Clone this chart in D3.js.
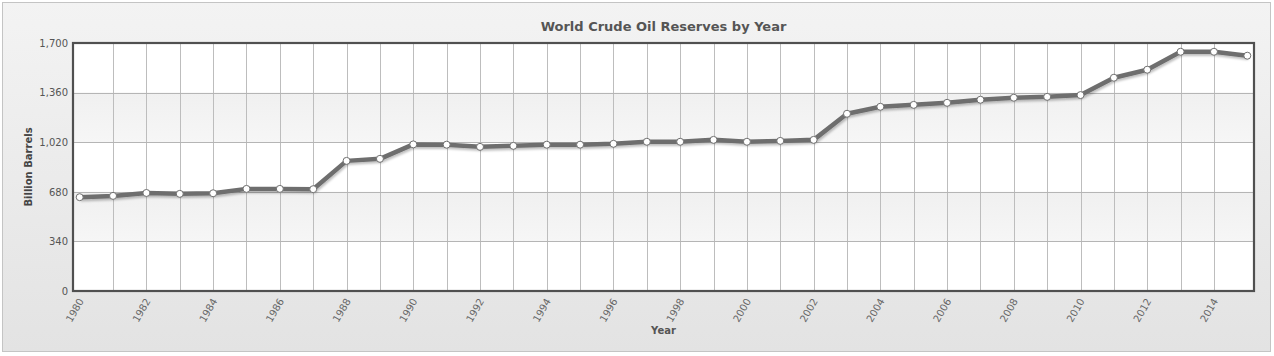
<!DOCTYPE html>
<html>
<head>
<meta charset="utf-8">
<script src="https://cdn.jsdelivr.net/npm/d3@7"></script>
<style>
html,body{margin:0;padding:0;background:#fff;}
svg{display:block;font-family:"DejaVu Sans",Verdana,sans-serif;}
</style>
</head>
<body>
<svg id="chart" width="1274" height="356"></svg>
<script>
const years = [1980,1981,1982,1983,1984,1985,1986,1987,1988,1989,1990,1991,1992,1993,1994,1995,1996,1997,1998,1999,2000,2001,2002,2003,2004,2005,2006,2007,2008,2009,2010,2011,2012,2013,2014,2015];
const reserves = [643,652,672,666,670,700,700,698,892,906,1005,1003,988,995,1003,1003,1009,1023,1023,1036,1023,1029,1036,1215,1263,1276,1290,1311,1325,1331,1343,1462,1517,1640,1640,1613];
const yTicks = [0,340,680,1020,1360,1700];
const xLabelYears = [1980,1982,1984,1986,1988,1990,1992,1994,1996,1998,2000,2002,2004,2006,2008,2010,2012,2014];
const title = "World Crude Oil Reserves by Year";
const yTitle = "Billion Barrels";
const xTitle = "Year";

const svg = d3.select("#chart");
const W = 1274, H = 356;
const m = {left:73, right:1254, top:43, bottom:291};

const defs = svg.append("defs");
const bg = defs.append("linearGradient").attr("id","bg").attr("x1",0).attr("y1",0).attr("x2",0).attr("y2",1);
bg.append("stop").attr("offset","0%").attr("stop-color","#f3f3f3");
bg.append("stop").attr("offset","100%").attr("stop-color","#e3e3e3");
const band = defs.append("linearGradient").attr("id","band").attr("x1",0).attr("y1",0).attr("x2",0).attr("y2",1);
band.append("stop").attr("offset","0%").attr("stop-color","#f0f0f0");
band.append("stop").attr("offset","100%").attr("stop-color","#f6f6f6");
const sh = defs.append("filter").attr("id","shadow").attr("x","-5%").attr("y","-20%").attr("width","110%").attr("height","140%");
sh.append("feDropShadow").attr("dx",1).attr("dy",2).attr("stdDeviation",1.2).attr("flood-color","#000").attr("flood-opacity",0.25);

svg.append("rect").attr("x",2.5).attr("y",2.5).attr("width",W-6).attr("height",H-7)
  .attr("fill","url(#bg)").attr("stroke","#c4c4c4").attr("stroke-width",1);

const x = d3.scalePoint().domain(years).range([m.left, m.right]).padding(0.2);
const y = d3.scaleLinear().domain([0,1700]).range([m.bottom, m.top]);

// plot background
svg.append("rect").attr("x",m.left).attr("y",m.top).attr("width",m.right-m.left).attr("height",m.bottom-m.top).attr("fill","#fff");
// alternating bands
const bandPairs = d3.pairs(yTicks);
svg.append("g").selectAll("rect").data(bandPairs.filter((d,i)=>i%2===1)).join("rect")
  .attr("x",m.left).attr("width",m.right-m.left)
  .attr("y",d=>y(d[1])).attr("height",d=>y(d[0])-y(d[1]))
  .attr("fill","url(#band)");

// vertical grid
svg.append("g").selectAll("line").data(years.slice(1,-1)).join("line")
  .attr("x1",d=>Math.round(x(d))+0.5).attr("x2",d=>Math.round(x(d))+0.5)
  .attr("y1",m.top).attr("y2",m.bottom)
  .attr("stroke","#bdbdbd").attr("stroke-width",1);
// horizontal grid
svg.append("g").selectAll("line").data(yTicks.slice(1,-1)).join("line")
  .attr("x1",m.left).attr("x2",m.right)
  .attr("y1",d=>Math.round(y(d))+0.5).attr("y2",d=>Math.round(y(d))+0.5)
  .attr("stroke","#b5b5b5").attr("stroke-width",1);

// plot border
svg.append("rect").attr("x",m.left).attr("y",m.top).attr("width",m.right-m.left).attr("height",m.bottom-m.top)
  .attr("fill","none").attr("stroke","#505050").attr("stroke-width",2.2);

// y axis labels
const yAxis = d3.axisLeft(y).tickValues(yTicks).tickSize(0).tickPadding(5).tickFormat(d3.format(","));
const yg = svg.append("g").attr("transform",`translate(${m.left},0)`).call(yAxis);
yg.select(".domain").remove();
yg.selectAll("text").attr("font-size",10).attr("fill","#555").attr("font-family","DejaVu Sans, Verdana, sans-serif");

// x axis labels
const xAxis = d3.axisBottom(x).tickValues(xLabelYears).tickSize(0).tickPadding(0);
const xg = svg.append("g").attr("transform",`translate(0,${m.bottom})`).call(xAxis);
xg.select(".domain").remove();
xg.selectAll("text").attr("font-size",10).attr("fill","#666").attr("font-family","DejaVu Sans, Verdana, sans-serif")
  .attr("text-anchor","end").attr("dy",0).attr("y",0)
  .attr("transform","translate(4,10) rotate(-60)");

// line
const line = d3.line().x((d,i)=>x(years[i])).y(d=>y(d));
svg.append("path").datum(reserves).attr("d",line).attr("fill","none")
  .attr("stroke","#6e6e6e").attr("stroke-width",4.5).attr("stroke-linejoin","round").attr("filter","url(#shadow)");
svg.append("g").selectAll("circle").data(reserves).join("circle")
  .attr("cx",(d,i)=>x(years[i])).attr("cy",d=>y(d)).attr("r",3.5)
  .attr("fill","#fff").attr("stroke","#707070").attr("stroke-width",1);

// titles
svg.append("text").attr("x",(m.left+m.right)/2).attr("y",31).attr("text-anchor","middle")
  .attr("font-size",13).attr("font-weight","bold").attr("fill","#555").text(title);
svg.append("text").attr("transform",`translate(32,${(m.top+m.bottom)/2}) rotate(-90)`).attr("text-anchor","middle")
  .attr("font-size",10).attr("font-weight","bold").attr("fill","#444").text(yTitle);
svg.append("text").attr("x",(m.left+m.right)/2).attr("y",334).attr("text-anchor","middle")
  .attr("font-size",10).attr("font-weight","bold").attr("fill","#555").text(xTitle);
</script>
</body>
</html>
